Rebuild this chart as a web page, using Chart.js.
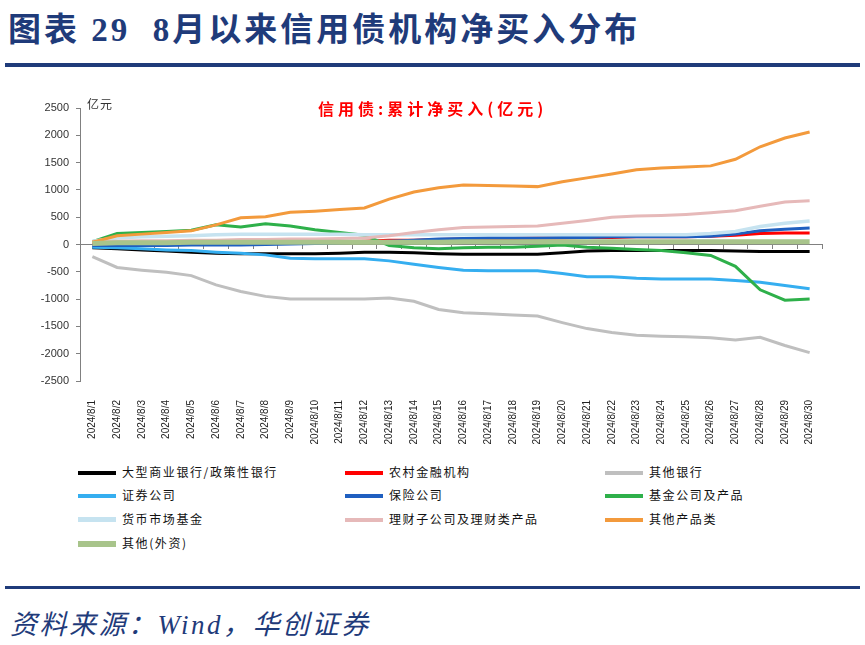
<!DOCTYPE html>
<html lang="zh-CN">
<head>
  <meta charset="UTF-8" />
  <title>8月以来信用债机构净买入分布</title>
  <script src="https://cdn.jsdelivr.net/npm/chart.js"></script>
  <style>
    body { margin: 0; background: #fff; }
    #page { position: relative; width: 865px; height: 645px; overflow: hidden; font-family: "Noto Sans CJK SC", sans-serif; }
    .title { position: absolute; left: 8px; top: 3px; font-family: "Liberation Serif", "Noto Sans CJK SC", serif; font-weight: bold; font-size: 33px; color: #1f3b7a; white-space: pre; letter-spacing: 3px; }
    .rule { position: absolute; left: 5px; width: 855px; background: #1f3b7a; }
    .source { position: absolute; left: 10px; top: 603px; font-family: "Liberation Serif", "Noto Sans CJK SC", serif; font-style: italic; font-size: 27px; color: #1f3b7a; letter-spacing: 2.5px; }
    #wrap { position: absolute; left: 0; top: 80px; width: 865px; height: 370px; }
    .ctitle { position: absolute; left: 318px; top: 96px; color: #ff0000; font-weight: bold; font-size: 16px; letter-spacing: 4px; }
    .unit { position: absolute; left: 87px; top: 95px; color: #333; font-size: 12px; letter-spacing: 1px; }
    #legend { position: absolute; left: 0; top: 460px; width: 865px; }
    .item { position: absolute; font-size: 12px; color: #111; letter-spacing: 1.6px; white-space: nowrap; line-height: 16px; }
    .item i { display: inline-block; width: 38px; height: 4px; vertical-align: middle; margin-right: 6px; margin-top: -2px; }
  </style>
</head>
<body>
<div id="page">
  <div class="title">图表 29  8月以来信用债机构净买入分布</div>
  <div class="rule" style="top:63px;height:4px"></div>

  <div id="wrap"><canvas id="c"></canvas></div>
  <div class="ctitle">信用债:累计净买入(亿元)</div>
  <div class="unit">亿元</div>
  <div id="legend"></div>

  <div class="rule" style="top:586px;height:3px"></div>
  <div class="source">资料来源：Wind，华创证券</div>
</div>

<script>
const labels = ['2024/8/1','2024/8/2','2024/8/3','2024/8/4','2024/8/5','2024/8/6','2024/8/7','2024/8/8','2024/8/9','2024/8/10',
  '2024/8/11','2024/8/12','2024/8/13','2024/8/14','2024/8/15','2024/8/16','2024/8/17','2024/8/18','2024/8/19','2024/8/20',
  '2024/8/21','2024/8/22','2024/8/23','2024/8/24','2024/8/25','2024/8/26','2024/8/27','2024/8/28','2024/8/29','2024/8/30'];
const yTicks = [-2500, -2000, -1500, -1000, -500, 0, 500, 1000, 1500, 2000, 2500];

// 亿元, cumulative
const bigBanks   = [-60,-80,-100,-120,-140,-160,-170,-170,-170,-170,-160,-140,-140,-150,-170,-180,-180,-180,-180,-150,-120,-110,-110,-110,-110,-110,-120,-130,-130,-130];
const ruralBanks = [10,20,20,30,30,30,40,40,40,40,50,60,80,80,90,100,110,110,120,120,130,130,140,140,140,150,170,200,210,210];
const otherBanks = [-220,-420,-470,-510,-570,-740,-860,-950,-1000,-1000,-1000,-1000,-980,-1040,-1190,-1250,-1270,-1290,-1310,-1430,-1540,-1610,-1660,-1680,-1690,-1710,-1750,-1700,-1850,-1980];
const brokers    = [-50,-60,-80,-100,-110,-140,-160,-190,-250,-260,-260,-260,-300,-360,-420,-470,-480,-480,-480,-530,-590,-590,-620,-630,-630,-630,-660,-690,-750,-810];
const insurers   = [-20,-20,-20,-20,-10,-10,-10,0,10,20,30,40,60,80,100,110,120,120,120,130,130,140,140,140,140,150,190,250,280,300];
const funds      = [50,200,220,240,260,360,320,380,340,270,220,170,-20,-60,-80,-60,-50,-50,-30,-10,-50,-70,-90,-110,-150,-200,-400,-830,-1020,-1000];
const moneyFunds = [60,120,140,150,160,180,190,190,190,190,190,180,180,180,180,180,180,180,180,180,180,180,180,180,180,200,240,330,390,430];
const wealthMgmt = [50,60,70,70,80,80,90,90,100,100,110,120,160,220,270,310,320,330,340,390,440,500,520,530,550,580,620,700,780,800];
const otherProds = [40,160,190,220,250,360,490,510,590,610,640,670,830,960,1040,1090,1080,1070,1060,1150,1220,1290,1370,1400,1420,1440,1560,1790,1950,2060];
const foreignInv = [20,30,30,30,40,40,40,40,40,40,40,40,40,40,40,50,50,50,50,50,50,50,50,50,50,50,50,50,50,50];

const series = [
  { label: '大型商业银行/政策性银行', data: bigBanks,   color: '#000000', w: 3 },
  { label: '农村金融机构',           data: ruralBanks, color: '#ff0000', w: 3 },
  { label: '其他银行',               data: otherBanks, color: '#bfbfbf', w: 3 },
  { label: '证券公司',               data: brokers,    color: '#35aef0', w: 3 },
  { label: '保险公司',               data: insurers,   color: '#1f5fc0', w: 3 },
  { label: '基金公司及产品',         data: funds,      color: '#2eb04a', w: 3 },
  { label: '货币市场基金',           data: moneyFunds, color: '#c6e3f0', w: 3.5 },
  { label: '理财子公司及理财类产品', data: wealthMgmt, color: '#e6b9b9', w: 3 },
  { label: '其他产品类',             data: otherProds, color: '#f39a3c', w: 3 },
  { label: '其他(外资)',             data: foreignInv, color: '#a8c48b', w: 5 }
];

const tickFont = { family: 'Liberation Sans', size: 10 };

new Chart(document.getElementById('c'), {
  type: 'line',
  data: {
    labels: labels,
    datasets: series.map((s, i) => ({
      label: s.label,
      data: s.data,
      borderColor: s.color,
      backgroundColor: s.color,
      borderWidth: s.w,
      pointRadius: 0,
      tension: 0,
      order: series.length - i
    }))
  },
  options: {
    responsive: true,
    maintainAspectRatio: false,
    animation: false,
    layout: { padding: { top: 28, right: 43, left: 0, bottom: 0 } },
    plugins: { legend: { display: false }, tooltip: { enabled: false } },
    scales: {
      x: {
        type: 'category',
        position: 'bottom',
        offset: true,
        grid: { display: false },
        border: { display: false },
        ticks: { autoSkip: false, minRotation: 90, maxRotation: 90, padding: 11, color: '#222', font: tickFont },
        afterFit: s => { s.height = 69; }
      },
      x2: {
        type: 'category',
        position: { y: 0 },
        offset: true,
        grid: { display: true, drawOnChartArea: false, drawTicks: true, tickLength: 4, offset: true, color: '#808080' },
        border: { display: true, color: '#808080' },
        ticks: { display: false, autoSkip: false }
      },
      y: {
        min: -2500,
        max: 2500,
        afterBuildTicks: s => { s.ticks = yTicks.map(v => ({ value: v })); },
        grid: { drawOnChartArea: false, drawTicks: true, tickLength: 4, color: '#808080' },
        border: { color: '#808080' },
        ticks: { padding: 7, color: '#333', font: { family: 'Liberation Sans', size: 11 }, callback: v => String(v) },
        afterFit: s => { s.width = 80; }
      }
    }
  }
});

// legend: three fixed columns like the original
const legend = document.getElementById('legend');
const colX = [78, 345, 605];
const rowY = [4, 27, 51, 75];
series.forEach((s, i) => {
  const d = document.createElement('div');
  d.className = 'item';
  d.style.left = colX[i % 3] + 'px';
  d.style.top = rowY[Math.floor(i / 3)] + 'px';
  d.innerHTML = '<i style="background:' + s.color + ';height:' + (s.w + 1) + 'px"></i>' + s.label;
  legend.appendChild(d);
});
</script>
</body>
</html>
